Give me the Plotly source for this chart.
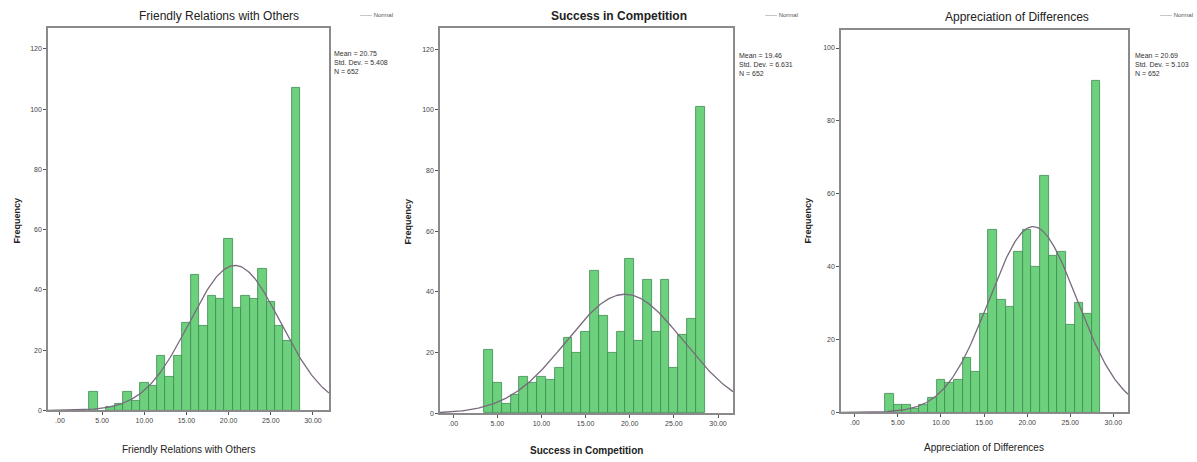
import numpy as np
import plotly.graph_objects as go

# ---------------- data ----------------
titles = ["Friendly Relations with Others", "Success in Competition", "Appreciation of Differences"]

scores_p1 = [4, 6, 7, 8, 9, 10, 11, 12, 13, 14, 15, 16, 17, 18, 19, 20, 21, 22, 23, 24, 25, 26, 27, 28]
counts_p1 = [6, 1, 2, 6, 3, 9, 8, 18, 11, 18, 29, 45, 28, 38, 37, 57, 34, 38, 37, 47, 36, 28, 23, 107]

scores_p2 = [4, 5, 6, 7, 8, 9, 10, 11, 12, 13, 14, 15, 16, 17, 18, 19, 20, 21, 22, 23, 24, 25, 26, 27, 28]
counts_p2 = [21, 10, 3, 6, 12, 10, 12, 11, 15, 25, 20, 27, 47, 32, 20, 27, 51, 24, 44, 27, 44, 15, 26, 31, 101]

scores_p3 = [4, 5, 6, 7, 8, 9, 10, 11, 12, 13, 14, 15, 16, 17, 18, 19, 20, 21, 22, 23, 24, 25, 26, 27, 28]
counts_p3 = [5, 2, 2, 1, 2, 4, 9, 8, 9, 15, 11, 27, 50, 31, 29, 44, 50, 40, 65, 43, 44, 24, 30, 27, 91]

means = [20.75, 19.46, 20.69]
std_devs = [5.408, 6.631, 5.103]
n_values = [652, 652, 652]
mean_labels = ["20.75", "19.46", "20.69"]
sd_labels = ["5.408", "6.631", "5.103"]

x_tick_vals = [0, 5, 10, 15, 20, 25, 30]
x_tick_text = [".00", "5.00", "10.00", "15.00", "20.00", "25.00", "30.00"]
y_tick_vals_12 = [0, 20, 40, 60, 80, 100, 120]
y_tick_vals_3 = [0, 20, 40, 60, 80, 100]

# ---------------- layout geometry (pixels) ----------------
W, H = 1197, 462
frames = [(48, 329, 28, 413), (440, 733, 28, 416), (841, 1128, 30, 415)]
x_ranges = [[-1.42, 31.9], [-1.5, 31.7], [-1.6, 31.7]]
y_ranges = [[0, 127], [0, 127], [0, 105]]
y_ticks = [y_tick_vals_12, y_tick_vals_12, y_tick_vals_3]

title_pos = [(219, 16), (619, 16), (1017, 17)]
xtitle_pos = [(188, 452), (586, 453), (984, 450)]
legend_pos = [(358, 15), (763, 15), (1158, 15)]
stats_pos = [(332, 48), (737, 50), (1133, 50)]
freq_pos = [(17, 222), (408, 223), (808, 222)]
title_bold = [False, True, False]

FONT = "Liberation Sans Narrow, Arial Narrow, Liberation Sans, Arial, sans-serif"
BAR_FILL = "#6dd07d"
BAR_LINE = "#3e8a50"
CURVE = "#7a6a7e"
FRAME = "#8a8a8a"


def px(x):
    return x / W


def py(y):
    return 1 - y / H


fig = go.Figure()
data = [(scores_p1, counts_p1), (scores_p2, counts_p2), (scores_p3, counts_p3)]

annotations = []
for i in range(3):
    ax = "" if i == 0 else str(i + 1)
    xs, cs = data[i]
    fig.add_trace(go.Bar(
        x=xs, y=cs, width=1.0,
        marker=dict(color=BAR_FILL, line=dict(color=BAR_LINE, width=0.8)),
        xaxis="x" + ax, yaxis="y" + ax, showlegend=False, hoverinfo="x+y",
    ))
    xg = np.linspace(x_ranges[i][0], x_ranges[i][1], 300)
    yg = n_values[i] * 1.0 / (std_devs[i] * np.sqrt(2 * np.pi)) * np.exp(-0.5 * ((xg - means[i]) / std_devs[i]) ** 2)
    fig.add_trace(go.Scatter(
        x=xg, y=yg, mode="lines", line=dict(color=CURVE, width=1.3),
        xaxis="x" + ax, yaxis="y" + ax, showlegend=False, hoverinfo="skip",
    ))

    l, r, t, b = frames[i]
    common = dict(showgrid=False, zeroline=False, showline=True, linecolor=FRAME, linewidth=1.5,
                  mirror=True, ticks="outside", ticklen=3, tickcolor="#555",
                  tickfont=dict(family=FONT, size=7, color="#444"))
    fig.update_layout(**{
        "xaxis" + ax: dict(domain=[px(l), px(r)], range=x_ranges[i], anchor="y" + ax,
                           tickvals=x_tick_vals, ticktext=x_tick_text, **common),
        "yaxis" + ax: dict(domain=[py(b), py(t)], range=y_ranges[i], anchor="x" + ax,
                           tickvals=y_ticks[i], **common),
    })

    tt = titles[i]
    tx, ty = title_pos[i]
    annotations.append(dict(x=px(tx), y=py(ty), xref="paper", yref="paper", showarrow=False,
                            text=("<b>%s</b>" % tt) if title_bold[i] else tt,
                            font=dict(family=FONT, size=12, color="#222"), xanchor="center", yanchor="middle"))
    xx, xy = xtitle_pos[i]
    annotations.append(dict(x=px(xx), y=py(xy), xref="paper", yref="paper", showarrow=False,
                            text=("<b>%s</b>" % tt) if title_bold[i] else tt,
                            font=dict(family=FONT, size=10, color="#222"), xanchor="center", yanchor="middle"))
    lx, ly = legend_pos[i]
    annotations.append(dict(x=px(lx), y=py(ly), xref="paper", yref="paper", showarrow=False,
                            text="<span style='color:%s'>——</span> Normal" % CURVE,
                            font=dict(family=FONT, size=6, color="#555"), xanchor="left", yanchor="middle"))
    sx, sy = stats_pos[i]
    annotations.append(dict(x=px(sx), y=py(sy), xref="paper", yref="paper", showarrow=False,
                            text="Mean = %s<br>Std. Dev. = %s<br>N = %d" % (mean_labels[i], sd_labels[i], n_values[i]),
                            align="left", font=dict(family=FONT, size=7, color="#333"),
                            xanchor="left", yanchor="top"))
    fx, fy = freq_pos[i]
    annotations.append(dict(x=px(fx), y=py(fy), xref="paper", yref="paper", showarrow=False,
                            text="<b>Frequency</b>", textangle=-90,
                            font=dict(family=FONT, size=9, color="#222"), xanchor="center", yanchor="middle"))

fig.update_layout(
    width=W, height=H, margin=dict(l=0, r=0, t=0, b=0),
    paper_bgcolor="white", plot_bgcolor="white",
    bargap=0, annotations=annotations, showlegend=False,
)

fig.write_html("out.html")
